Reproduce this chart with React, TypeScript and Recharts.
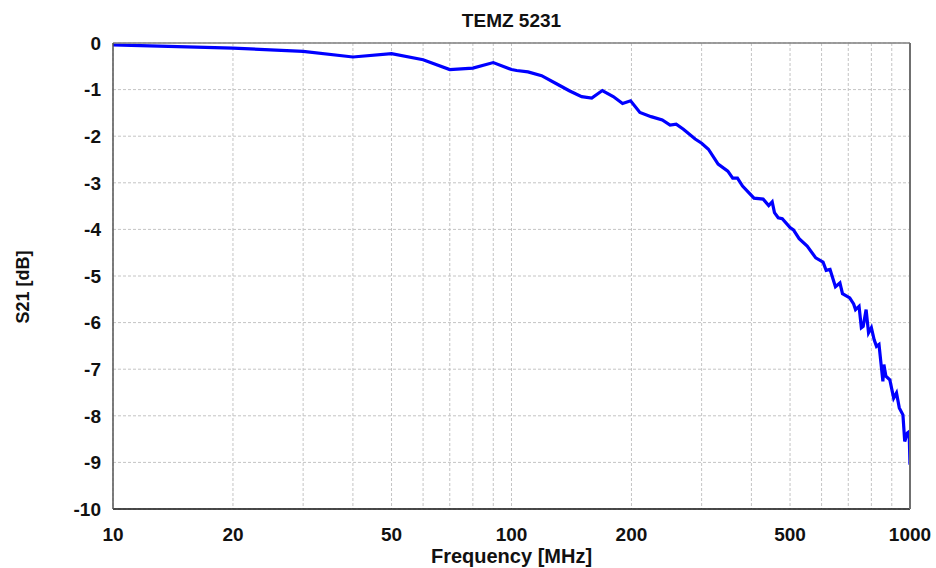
import React from 'react';
import { LineChart, Line, XAxis, YAxis, CartesianGrid } from 'recharts';

const freqMHz = [
  10, 20, 30, 40, 50, 60, 70, 80, 90, 100, 103, 110, 119, 130, 140, 150, 159, 169, 180, 190,
  199, 210, 224, 239, 250, 259, 270, 289, 300, 312, 330, 349, 359, 369, 380, 406, 428, 442,
  451, 457, 467, 478, 500, 510, 527, 552, 580, 605, 616, 630, 650, 667, 677, 706, 722, 730,
  745, 755, 763, 776, 787, 800, 813, 824, 836, 855, 860, 870, 890, 910, 925, 940, 960, 970,
  985, 995, 1000,
];
const s21dB = [
  -0.04, -0.11, -0.18, -0.3, -0.23, -0.36, -0.57, -0.54, -0.42, -0.57, -0.59, -0.62, -0.7,
  -0.88, -1.03, -1.15, -1.18, -1.02, -1.15, -1.3, -1.24, -1.49, -1.58, -1.65, -1.76, -1.74,
  -1.85, -2.06, -2.15, -2.28, -2.6, -2.75, -2.9, -2.9, -3.07, -3.33, -3.35, -3.49, -3.41,
  -3.64, -3.75, -3.77, -3.96, -4.01, -4.2, -4.36, -4.61, -4.7, -4.88, -4.86, -5.23, -5.15,
  -5.38, -5.47, -5.6, -5.72, -5.65, -6.11, -6.08, -5.72, -6.22, -6.11, -6.37, -6.51, -6.47,
  -7.26, -6.9, -7.15, -7.23, -7.62, -7.51, -7.83, -7.98, -8.55, -8.37, -8.34, -9.05,
];
const gridFreqs = [10, 20, 30, 40, 50, 60, 70, 80, 90, 100, 200, 300, 400, 500, 600, 700, 800, 900, 1000];
const labeledFreqs = [10, 20, 50, 100, 200, 500, 1000];
const majorFreqs = [100];
const dbTicks = [0, -1, -2, -3, -4, -5, -6, -7, -8, -9, -10];
const chartTitle = 'TEMZ 5231';
const xTitle = 'Frequency [MHz]';
const yTitle = 'S21 [dB]';

const data = freqMHz.map((f, i) => ({ f, s21: s21dB[i] }));

const FONT = '"Liberation Sans", Arial, Helvetica, sans-serif';

const XTick = (props: any) => {
  const { x, y, payload } = props;
  if (!labeledFreqs.includes(payload.value)) return null;
  return (
    <text x={x} y={y + 32} textAnchor="middle" fontSize={19} fontWeight="bold" fill="#111" fontFamily={FONT}>
      {payload.value}
    </text>
  );
};

const YTick = (props: any) => {
  const { x, y, payload } = props;
  return (
    <text x={x} y={y} dy="0.36em" textAnchor="end" fontSize={19} fontWeight="bold" fill="#111" fontFamily={FONT}>
      {payload.value}
    </text>
  );
};

const XLabel = (props: any) => {
  const vb = props.viewBox || { x: 113, y: 509, width: 797, height: 59 };
  return (
    <text x={vb.x + vb.width / 2} y={vb.y + 54} textAnchor="middle" fontSize={20} fontWeight="bold" fill="#111" fontFamily={FONT}>
      {xTitle}
    </text>
  );
};

const YLabel = (props: any) => {
  const vb = props.viewBox || { x: 0, y: 43, width: 113, height: 466 };
  const cx = vb.x + 29;
  const cy = vb.y + vb.height / 2 + 11;
  return (
    <text x={cx} y={cy} transform={`rotate(-90 ${cx} ${cy})`} textAnchor="middle" fontSize={18} fontWeight="bold" fill="#111" fontFamily={FONT}>
      {yTitle}
    </text>
  );
};

export default function App() {
  return (
    <div style={{ position: 'absolute', left: 0, top: 0, width: 936, height: 568, background: '#fff' }}>
      <div
        style={{
          position: 'absolute',
          left: 113,
          width: 797,
          top: 11,
          textAlign: 'center',
          fontFamily: FONT,
          fontWeight: 'bold',
          fontSize: 19,
          lineHeight: '19px',
          color: '#111',
        }}
      >
        {chartTitle}
      </div>
      <LineChart width={936} height={568} data={data} margin={{ top: 43, right: 26, bottom: 0, left: 0 }}>
        <CartesianGrid xAxisId="b" yAxisId="l" stroke="#c4c4c4" strokeDasharray="3 2" />
        <XAxis
          xAxisId="b"
          dataKey="f"
          type="number"
          scale="log"
          domain={[10, 1000]}
          allowDataOverflow
          ticks={gridFreqs}
          interval={0}
          height={59}
          tickLine={false}
          tickSize={0}
          tickMargin={0}
          axisLine={{ stroke: '#111', strokeWidth: 1.5 }}
          tick={<XTick />}
          label={<XLabel />}
        />
        <XAxis
          xAxisId="t"
          orientation="top"
          mirror
          type="number"
          scale="log"
          domain={[10, 1000]}
          allowDataOverflow
          ticks={gridFreqs}
          interval={0}
          height={30}
          tick={false}
          tickSize={4}
          tickLine={{ stroke: '#555', strokeWidth: 1.5 }}
          axisLine={{ stroke: '#808080', strokeWidth: 1.5 }}
        />
        <XAxis
          xAxisId="bi"
          orientation="bottom"
          mirror
          type="number"
          scale="log"
          domain={[10, 1000]}
          allowDataOverflow
          ticks={majorFreqs}
          interval={0}
          height={30}
          tick={false}
          tickSize={4}
          tickLine={{ stroke: '#333', strokeWidth: 1 }}
          axisLine={false}
        />
        <YAxis
          yAxisId="l"
          type="number"
          domain={[-10, 0]}
          allowDataOverflow
          ticks={dbTicks}
          interval={0}
          width={113}
          tickLine={false}
          tickSize={0}
          tickMargin={12}
          axisLine={{ stroke: '#555', strokeWidth: 1.5 }}
          tick={<YTick />}
          label={<YLabel />}
        />
        <YAxis
          yAxisId="li"
          orientation="left"
          mirror
          type="number"
          domain={[-10, 0]}
          allowDataOverflow
          ticks={dbTicks}
          interval={0}
          width={30}
          tick={false}
          tickSize={6}
          tickLine={{ stroke: '#555', strokeWidth: 1.5 }}
          axisLine={false}
        />
        <YAxis
          yAxisId="r"
          orientation="right"
          mirror
          type="number"
          domain={[-10, 0]}
          allowDataOverflow
          ticks={dbTicks}
          interval={0}
          width={30}
          tick={false}
          tickSize={6}
          tickLine={{ stroke: '#555', strokeWidth: 1.5 }}
          axisLine={{ stroke: '#707070', strokeWidth: 2 }}
        />
        <Line
          xAxisId="b"
          yAxisId="l"
          type="linear"
          dataKey="s21"
          stroke="#0000ff"
          strokeWidth={3.2}
          dot={false}
          activeDot={false}
          isAnimationActive={false}
        />
      </LineChart>
    </div>
  );
}
